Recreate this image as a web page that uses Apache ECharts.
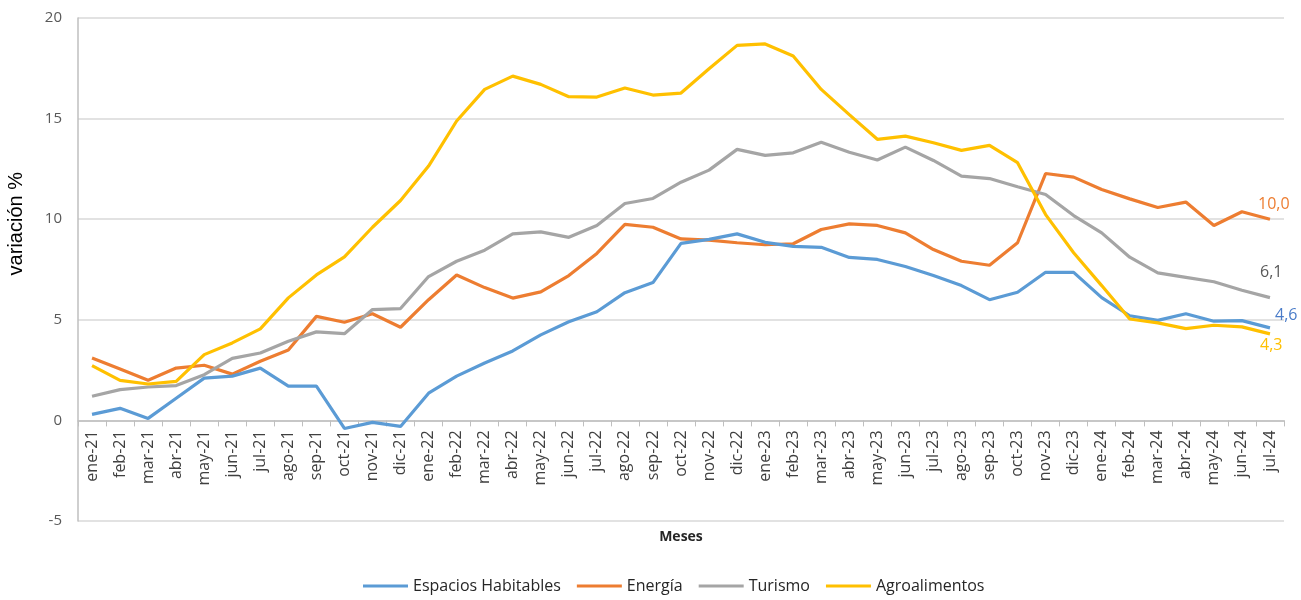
<!DOCTYPE html>
<html>
<head>
<meta charset="utf-8">
<script src="https://cdn.jsdelivr.net/npm/echarts@6/dist/echarts.min.js"></script>
<style>html,body{margin:0;padding:0;background:#fff}#c{width:1301px;height:600px}</style>
</head>
<body>
<div id="c"></div>
<script>
const categories = ['ene-21','feb-21','mar-21','abr-21','may-21','jun-21','jul-21','ago-21','sep-21','oct-21','nov-21','dic-21',
'ene-22','feb-22','mar-22','abr-22','may-22','jun-22','jul-22','ago-22','sep-22','oct-22','nov-22','dic-22',
'ene-23','feb-23','mar-23','abr-23','may-23','jun-23','jul-23','ago-23','sep-23','oct-23','nov-23','dic-23',
'ene-24','feb-24','mar-24','abr-24','may-24','jun-24','jul-24'];

const espaciosHabitables = [0.3,0.6,0.1,1.1,2.1,2.2,2.6,1.7,1.7,-0.4,-0.1,-0.3,
1.35,2.2,2.85,3.45,4.25,4.9,5.4,6.35,6.85,8.8,9.0,9.27,
8.85,8.65,8.6,8.1,8.0,7.65,7.2,6.7,6.0,6.37,7.36,7.36,
6.1,5.2,4.97,5.3,4.93,4.96,4.6];

const energia = [3.1,2.56,2.0,2.6,2.74,2.3,2.94,3.5,5.17,4.88,5.3,4.63,
6.0,7.23,6.6,6.08,6.39,7.2,8.3,9.74,9.6,9.02,8.96,8.83,
8.73,8.78,9.49,9.77,9.69,9.32,8.49,7.91,7.71,8.83,12.27,12.09,
11.48,11.01,10.58,10.85,9.69,10.37,10.0];

const turismo = [1.2,1.53,1.66,1.73,2.27,3.08,3.35,3.93,4.4,4.31,5.51,5.56,
7.15,7.91,8.46,9.27,9.37,9.1,9.69,10.78,11.03,11.84,12.44,13.47,
13.17,13.3,13.83,13.33,12.94,13.58,12.92,12.14,12.02,11.61,11.23,10.18,
9.32,8.11,7.33,7.11,6.89,6.47,6.1];

const agroalimentos = [2.72,1.99,1.81,1.94,3.27,3.85,4.55,6.09,7.23,8.13,9.6,10.93,
12.64,14.88,16.45,17.11,16.7,16.09,16.07,16.52,16.17,16.27,17.48,18.64,
18.71,18.11,16.45,15.2,13.97,14.13,13.8,13.42,13.67,12.81,10.23,8.33,
6.7,5.04,4.85,4.56,4.73,4.65,4.3];

const yTicks = [-5, 0, 5, 10, 15, 20];
const endLabels = ['4,6','10,0','6,1','4,3'];

const colors = ['#5B9BD5','#ED7D31','#A5A5A5','#FFC000'];
const labelColors = ['#4A7CC9','#ED7D31','#595959','#FFC000'];
const names = ['Espacios Habitables','Energía','Turismo','Agroalimentos'];
const datasets = [espaciosHabitables, energia, turismo, agroalimentos];
const labelOffsets = [[-3,-12],[-20,-15],[-18,-25],[-18,12]];

const Y_MIN = -5, Y_MAX = 20;
const GRID_TOP = 18, GRID_BOTTOM = 79, H = 600;
const plotH = H - GRID_TOP - GRID_BOTTOM;
const zeroOffset = -plotH * (0 - Y_MIN) / (Y_MAX - Y_MIN);

const chart = echarts.init(document.getElementById('c'), null, {renderer:'canvas'});
chart.setOption({
  animation:false,
  backgroundColor:'#fff',
  grid:{left:78, right:17, top:GRID_TOP, bottom:GRID_BOTTOM, containLabel:false, outerBoundsMode:'none'},
  legend:{
    bottom:1, left:358,
    data:names,
    itemWidth:45, itemHeight:3, itemGap:16,
    icon:'rect',
    textStyle:{fontSize:16, color:'#262626', fontFamily:'Open Sans'}
  },
  graphic:[{
    type:'text', left:6, top:172, rotation:Math.PI/2,
    style:{text:'variación %', font:'20px "Liberation Sans"', fill:'#000'}
  }],
  xAxis:{
    type:'category', data:categories, boundaryGap:true,
    position:'bottom', offset: zeroOffset,
    name:'Meses', nameLocation:'middle', nameGap:110,
    nameTextStyle:{fontWeight:'bold', fontSize:14, color:'#262626', fontFamily:'Open Sans'},
    axisLine:{onZero:false, lineStyle:{color:'#BFBFBF', width:1.5}},
    axisTick:{show:true, length:6, lineStyle:{color:'#BFBFBF'}},
    axisLabel:{rotate:90, fontSize:16, color:'#404040', margin:10, interval:0, fontFamily:'Open Sans'}
  },
  yAxis:{
    type:'value', min:Y_MIN, max:Y_MAX, interval:5,
    axisLine:{show:true, lineStyle:{color:'#BFBFBF', width:1.5}},
    axisTick:{show:false},
    splitLine:{lineStyle:{color:'#D9D9D9', width:1.5}},
    axisLabel:{fontSize:15, color:'#595959', margin:16, fontFamily:'Open Sans',
      formatter: v => yTicks.includes(v) ? String(v) : ''}
  },
  series: datasets.map((arr, i) => ({
    name:names[i], type:'line', data:arr,
    symbol:'none', showSymbol:false,
    lineStyle:{color:colors[i], width:3.2},
    itemStyle:{color:colors[i]},
    endLabel:{show:true, formatter:endLabels[i], color:labelColors[i], fontSize:16, fontFamily:'Open Sans', offset:labelOffsets[i]},
    z: i===0 ? 5 : 3 + i
  }))
});
</script>
</body>
</html>
